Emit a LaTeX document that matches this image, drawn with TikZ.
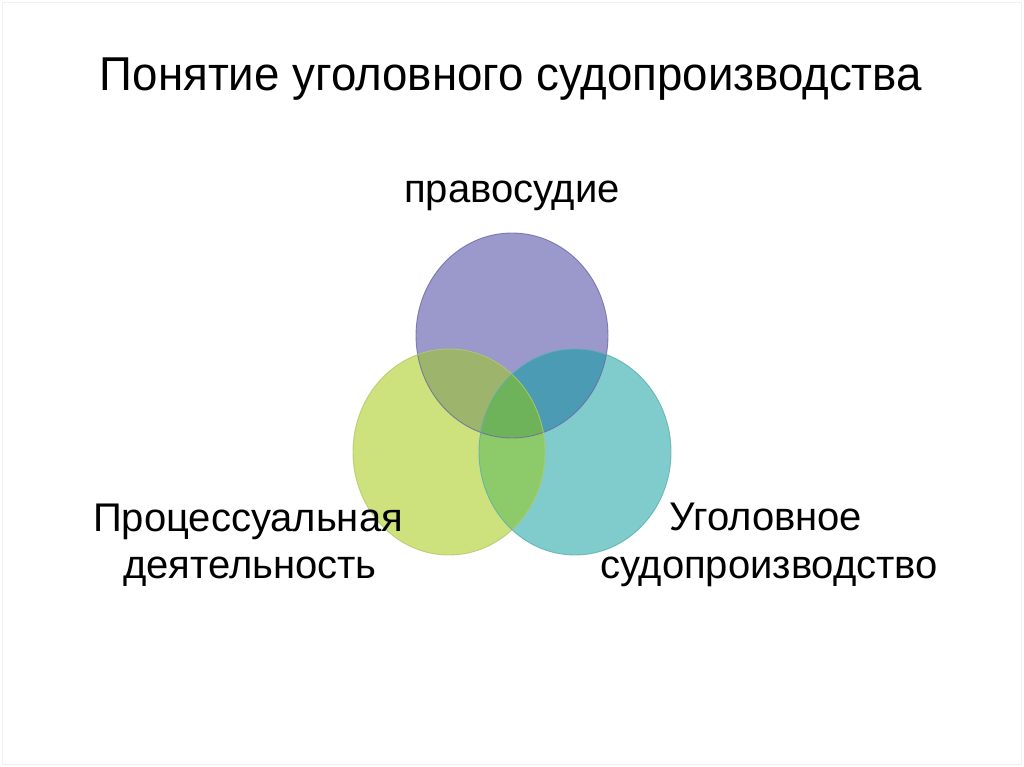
\documentclass[tikz,border=0pt]{standalone}
\usepackage{fontspec}
\setmainfont{Liberation Sans}
\usepackage{graphicx}
\definecolor{cP}{HTML}{9B98CC}
\definecolor{cG}{HTML}{CDE17C}
\definecolor{cT}{HTML}{80CCCC}
\definecolor{cPG}{HTML}{9CB46B}
\definecolor{cPT}{HTML}{4C9BB4}
\definecolor{cGT}{HTML}{8DCB6A}
\definecolor{cPGT}{HTML}{6EB25A}
\definecolor{oP}{HTML}{6C6AA2}
\definecolor{oG}{HTML}{B2C86A}
\definecolor{oT}{HTML}{5EAEAE}
\tikzset{
  lbl/.style={font=\fontsize{40}{47}\selectfont, align=center, inner sep=0pt, text=black},
  ring/.style={line width=0.9pt, draw opacity=0.8}
}
\begin{document}
\begin{tikzpicture}[x=1pt,y=-1pt]
\useasboundingbox (0,0) rectangle (1024,767);
\fill[white] (0,0) rectangle (1024,767);
\draw[black!6, line width=1pt] (2.5,2.5) rectangle (1021.5,764.5);
% base fills
\fill[cP] (512,335.5) ellipse [x radius=96, y radius=102.5];
\fill[cG] (449,452) ellipse [x radius=96, y radius=103];
\fill[cT] (575,452) ellipse [x radius=96, y radius=103];
% overlaps
\begin{scope}
  \clip (512,335.5) ellipse [x radius=96, y radius=102.5];
  \fill[cPG] (449,452) ellipse [x radius=96, y radius=103];
  \fill[cPT] (575,452) ellipse [x radius=96, y radius=103];
\end{scope}
\begin{scope}
  \clip (449,452) ellipse [x radius=96, y radius=103];
  \fill[cGT] (575,452) ellipse [x radius=96, y radius=103];
\end{scope}
\begin{scope}
  \clip (512,335.5) ellipse [x radius=96, y radius=102.5];
  \clip (449,452) ellipse [x radius=96, y radius=103];
  \fill[cPGT] (575,452) ellipse [x radius=96, y radius=103];
\end{scope}
% outlines
\draw[ring, oP] (512,335.5) ellipse [x radius=96, y radius=102.5];
\draw[ring, oG] (449,452) ellipse [x radius=96, y radius=103];
\draw[ring, oT] (575,452) ellipse [x radius=96, y radius=103];
% texts
\node[inner sep=0pt, anchor=base] (title) at (511,91)
  {\resizebox{822pt}{\height}{\fontsize{47.5}{50}\selectfont Понятие уголовного судопроизводства}};
\node[lbl, anchor=base] (just) at (512,203) {правосудие};
\node[lbl, anchor=base] (proc1) at (248,531) {Процессуальная};
\node[lbl, anchor=base] (proc2) at (250,578) {деятельность};
\node[lbl, anchor=base] (ug1) at (766,530) {Уголовное};
\node[lbl, anchor=base] (ug2) at (769,578) {судопроизводство};
\end{tikzpicture}
\end{document}
